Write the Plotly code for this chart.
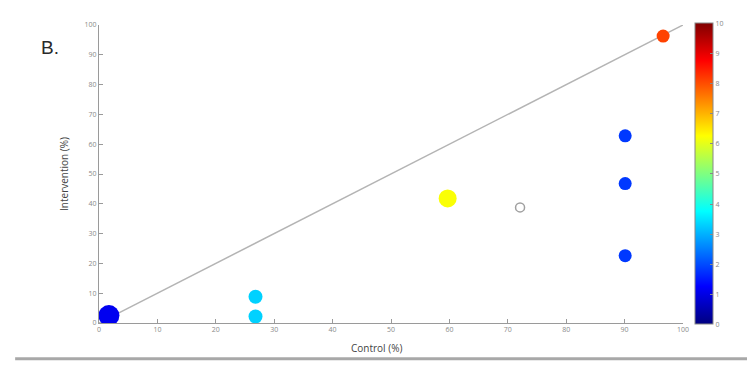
import plotly.graph_objects as go

# Data
control = [1.7, 26.8, 26.8, 59.7, 90.1, 90.1, 90.1, 96.6]
intervention = [2.5, 8.8, 2.2, 41.8, 62.8, 46.8, 22.6, 96.3]
color_value = [1.1, 3.3, 3.3, 6.2, 1.8, 1.8, 1.8, 8.1]
marker_size = [21, 14, 14, 18, 13, 13, 13, 13]

open_control = [72.1]
open_intervention = [38.8]

line_x = [0, 100]
line_y = [0, 100]

ticks = [0, 10, 20, 30, 40, 50, 60, 70, 80, 90, 100]
cbar_ticks = [0, 1, 2, 3, 4, 5, 6, 7, 8, 9, 10]

jet = [
    [0.0, "rgb(0,0,128)"],
    [0.125, "rgb(0,0,255)"],
    [0.375, "rgb(0,255,255)"],
    [0.625, "rgb(255,255,0)"],
    [0.875, "rgb(255,0,0)"],
    [1.0, "rgb(128,0,0)"],
]

fig = go.Figure()

fig.add_trace(go.Scatter(
    x=line_x, y=line_y, mode="lines",
    line=dict(color="#b4b4b4", width=1.5),
    hoverinfo="skip", showlegend=False,
))

fig.add_trace(go.Scatter(
    x=open_control, y=open_intervention, mode="markers",
    marker=dict(size=9, color="white", line=dict(color="#a0a0a0", width=1.5)),
    showlegend=False,
))

fig.add_trace(go.Scatter(
    x=control, y=intervention, mode="markers",
    marker=dict(
        size=marker_size, color=color_value, colorscale=jet, cmin=0, cmax=10,
        opacity=1, line=dict(width=0),
        showscale=True,
        colorbar=dict(
            x=1.0205, xanchor="left", y=-0.005, yanchor="bottom", yref="paper",
            len=1.01, lenmode="fraction", thickness=18,
            outlinecolor="#888", outlinewidth=1,
            tickvals=cbar_ticks, ticks="inside", ticklen=3, tickcolor="#888",
            tickfont=dict(size=7, color="#888", family="Open Sans"),
            ypad=0, xpad=0,
        ),
    ),
    showlegend=False,
))

axis_common = dict(
    showgrid=False, zeroline=False, showline=True, linecolor="#9a9a9a", linewidth=1,
    ticks="inside", ticklen=4, tickcolor="#9a9a9a", tickvals=ticks,
    tickfont=dict(size=7, color="#8a8a8a", family="Open Sans"),
)

fig.update_layout(
    width=747, height=361,
    margin=dict(l=91, r=72, t=12, b=46),
    paper_bgcolor="white", plot_bgcolor="white",
    xaxis=dict(range=[0, 100], **axis_common),
    yaxis=dict(range=[0, 100], **axis_common),
    annotations=[
        dict(text="B.", x=-0.1026, y=0.967, xref="paper", yref="paper", showarrow=False,
             font=dict(size=19, color="#2a2a2a", family="Liberation Sans Narrow, Liberation Sans")),
        dict(text="Control (%)", x=0.476, y=-0.0825, xref="paper", yref="paper",
             showarrow=False, yanchor="middle",
             font=dict(size=10, color="#444", family="Open Sans")),
        dict(text="Intervention (%)", x=-0.06, y=0.5, xref="paper", yref="paper",
             showarrow=False, textangle=-90, xanchor="center",
             font=dict(size=10, color="#444", family="Open Sans")),
    ],
    shapes=[
        dict(type="line", xref="paper", yref="paper", x0=-0.1436, x1=1.125,
             y0=-0.12, y1=-0.12, line=dict(color="#a8a8a8", width=3)),
    ],
)

fig.write_html("out.html")
